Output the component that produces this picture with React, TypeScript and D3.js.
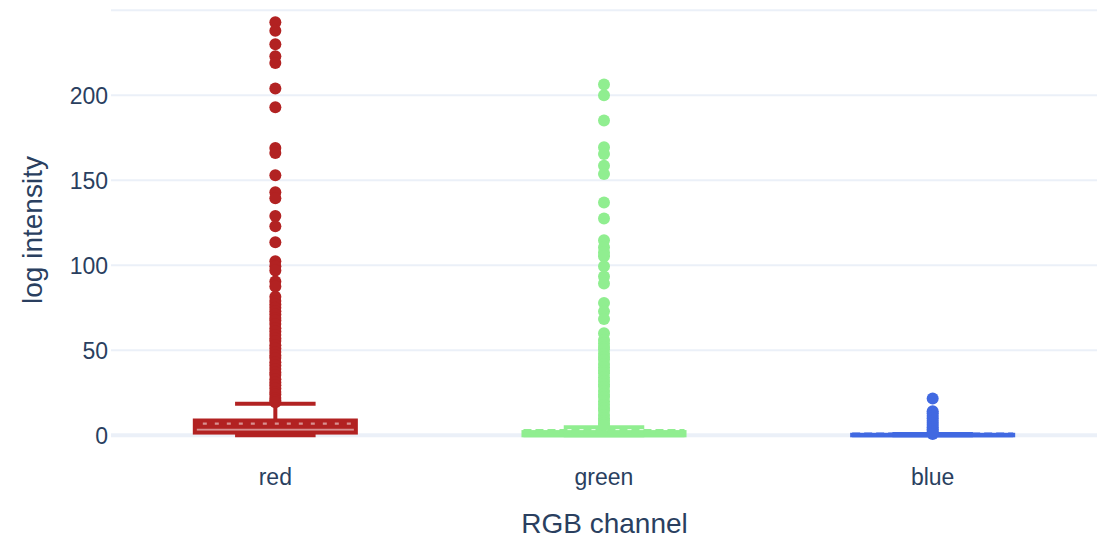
import React from "react";
import * as d3 from "d3";

const categories = ["red", "green", "blue"];
const colors = ["#B22222", "#90EE90", "#4169E1"];
const yTicks = [0, 50, 100, 150, 200];
const yGridExtra = [250];

// box statistics per channel
const q1 = [1.6, 0, 0];
const median = [5.0, 0.1, 0];
const mean = [6.9, 2.6, 0.5];
const q3 = [8.7, 1.9, 0.3];
const lowerFence = [0, 0, 0];
const upperFence = [18.5, 4.8, 0.7];

const redOutliers = [
  243, 238, 230, 223, 219, 204, 193, 169, 166, 153, 143, 139.5, 129, 123,
  113.5, 102.4, 99.5, 97, 90.5, 87.5, 81.5, 79, 77, 75, 73, 71, 69, 67.5,
  65.5, 63, 61, 59, 57, 55.5, 53, 51, 49, 47, 45.5, 43, 41, 39, 37, 35.5,
  33, 31, 29.5, 27.5, 25.5, 24, 22, 20.5, 19.5,
];
const greenOutliers = [
  206.3, 200, 185.2, 169.5, 165.5, 158.6, 153.7, 137, 127.5, 114.7, 110.6,
  107.6, 105.3, 99.5, 93.4, 89.3, 77.8, 72.9, 68.4, 60.1, 56, 54, 52, 50.5,
  48, 46, 44.5, 42, 40, 38, 36.5, 34, 32, 30, 28.5, 26, 24, 22.5, 20, 18,
  16, 14.5, 12, 10, 8.5, 7, 6,
];
const blueOutliers = [
  21.7, 14.2, 13, 11.5, 10, 8.6, 7.2, 6, 4.8, 3.6, 2.5, 1.5, 0.8,
];
const outliers = [redOutliers, greenOutliers, blueOutliers];

const W = 1099;
const H = 540;
const plotLeft = 111;
const plotRight = 1097;
const textColor = "#2a3f5f";
const gridColor = "#EBF0F8";
const font = "'Liberation Sans', Arial, Helvetica, sans-serif";

function lighten(c: string) {
  const col = d3.color(c)!;
  col.opacity = 0.5;
  return col.formatRgb();
}

export default function App() {
  const x = d3.scaleBand<string>().domain(categories).range([plotLeft, plotRight]);
  const y = d3.scaleLinear().domain([0, 250]).range([435.3, 10.3]);
  const bw = x.bandwidth() * 0.49;
  const lw = 4;

  return (
    <svg
      width={W}
      height={H}
      style={{ position: "absolute", left: 0, top: 0, background: "#fff" }}
      fontFamily={font}
    >
      <rect x={0} y={0} width={W} height={H} fill="#fff" />
      {/* grid */}
      {[...yTicks.filter((t) => t !== 0), ...yGridExtra].map((t) => (
        <line
          key={"g" + t}
          x1={plotLeft}
          x2={plotRight}
          y1={y(t)}
          y2={y(t)}
          stroke={gridColor}
          strokeWidth={2}
        />
      ))}
      <line
        x1={plotLeft}
        x2={plotRight}
        y1={y(0)}
        y2={y(0)}
        stroke={gridColor}
        strokeWidth={4}
      />
      {/* y tick labels */}
      {yTicks.map((t) => (
        <text
          key={"t" + t}
          x={108}
          y={y(t)}
          dy="0.36em"
          textAnchor="end"
          fontSize={23}
          fill={textColor}
        >
          {t}
        </text>
      ))}
      {/* x tick labels */}
      {categories.map((c) => (
        <text
          key={"x" + c}
          x={x(c)! + x.bandwidth() / 2}
          y={484.5}
          textAnchor="middle"
          fontSize={23}
          fill={textColor}
        >
          {c}
        </text>
      ))}
      {/* axis titles */}
      <text
        x={(plotLeft + plotRight) / 2 + 0.5}
        y={533}
        textAnchor="middle"
        fontSize={28}
        fill={textColor}
      >
        RGB channel
      </text>
      <text
        transform="translate(42,230) rotate(-90)"
        textAnchor="middle"
        fontSize={28}
        fill={textColor}
      >
        log intensity
      </text>
      {/* boxes */}
      {categories.map((c, i) => {
        const cx = x(c)! + x.bandwidth() / 2;
        const x0 = cx - bw / 2;
        const x1 = cx + bw / 2;
        const col = colors[i];
        const capHalf = bw / 4;
        return (
          <g key={"b" + c}>
            <rect
              x={x0}
              y={y(q3[i])}
              width={bw}
              height={Math.max(0, y(q1[i]) - y(q3[i]))}
              fill={lighten(col)}
              stroke={col}
              strokeWidth={lw}
            />
            <line x1={x0} x2={x1} y1={y(median[i])} y2={y(median[i])} stroke={col} strokeWidth={lw} />
            <line
              x1={x0}
              x2={x1}
              y1={y(mean[i])}
              y2={y(mean[i])}
              stroke={col}
              strokeWidth={lw}
              strokeDasharray="8,4"
            />
            <line x1={cx} x2={cx} y1={y(q3[i])} y2={y(upperFence[i])} stroke={col} strokeWidth={lw} />
            <line x1={cx} x2={cx} y1={y(q1[i])} y2={y(lowerFence[i])} stroke={col} strokeWidth={lw} />
            <line
              x1={cx - capHalf}
              x2={cx + capHalf}
              y1={y(upperFence[i])}
              y2={y(upperFence[i])}
              stroke={col}
              strokeWidth={lw}
            />
            <line
              x1={cx - capHalf}
              x2={cx + capHalf}
              y1={y(lowerFence[i])}
              y2={y(lowerFence[i])}
              stroke={col}
              strokeWidth={lw}
            />
            {outliers[i].map((v, k) => (
              <circle key={k} cx={cx} cy={y(v)} r={6} fill={col} />
            ))}
          </g>
        );
      })}
    </svg>
  );
}
